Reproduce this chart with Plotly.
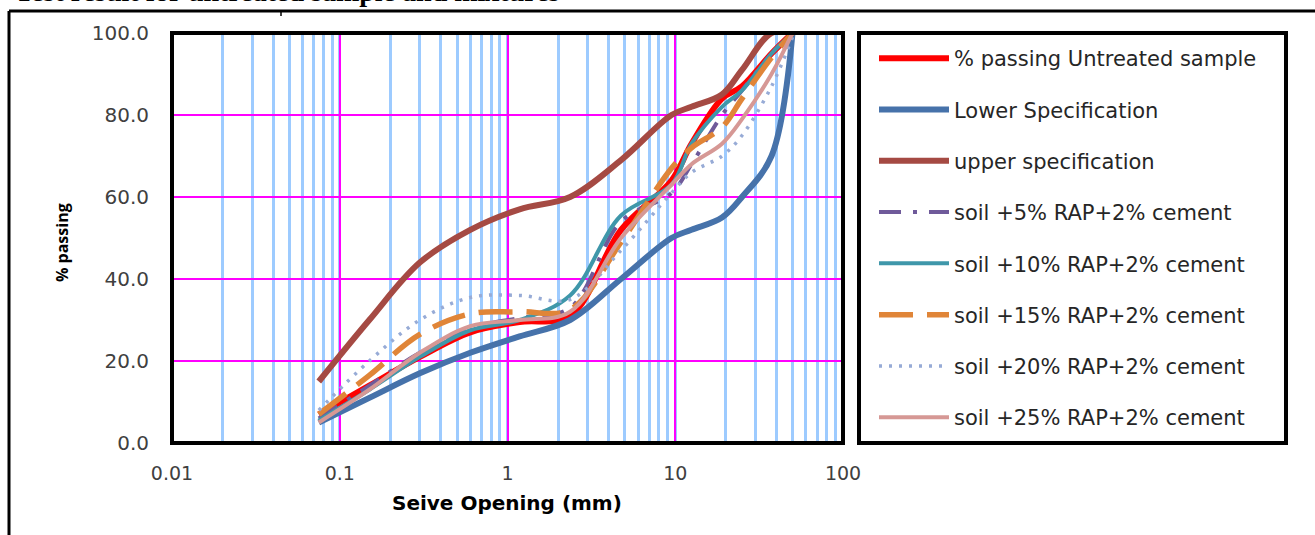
import plotly.graph_objects as go

# ---------------- data ----------------
sieve_mm = [0.075, 0.15, 0.3, 0.6, 1.18, 2.36, 4.75, 9.5, 12.5, 19, 25, 37.5, 50]

untreated = [7, 14, 21, 27, 29.5, 31, 52, 64, 73, 84, 87, 95, 100]
lower_spec = [5, 11, 17, 22, 26, 30, 40, 50, 52, 55, 60, 70, 100]
upper_spec = [15, 30, 44, 52, 57, 60, 69, 80, 82, 85, 91, 100, 100]
rap5 = [6, 14, 22, 28, 30.5, 33, 54, 61, 68, 80, 86, 95, 100]
rap10 = [5.5, 13, 21, 27.5, 30, 36, 55.5, 63, 73, 82, 86, 95, 100]
rap15 = [7, 16.5, 26.5, 31.5, 32, 32.5, 49, 67, 72, 77, 84, 94, 100]
rap20 = [8, 20, 30, 35.5, 36, 35, 47, 61, 66, 70, 75, 87, 99]
rap25 = [5, 13, 22, 28.5, 30, 32, 50, 63, 68, 73, 79, 90, 100]

series_names = [
    "% passing Untreated sample",
    "Lower Specification",
    "upper specification",
    "soil +5% RAP+2% cement",
    "soil +10% RAP+2% cement",
    "soil +15% RAP+2% cement",
    "soil +20% RAP+2% cement",
    "soil +25% RAP+2% cement",
]

x_tick_vals = [0.01, 0.1, 1, 10, 100]
x_tick_text = ["0.01", "0.1", "1", "10", "100"]
y_tick_vals = [0, 20, 40, 60, 80, 100]
y_tick_text = ["0.0", "20.0", "40.0", "60.0", "80.0", "100.0"]

# ---------------- styles ----------------
styles = [
    dict(color="#FF0000", width=6, dash="solid"),
    dict(color="#4672AA", width=6, dash="solid"),
    dict(color="#A54A43", width=6, dash="solid"),
    dict(color="#6F5A9A", width=4, dash="22px,12px,4px,12px"),
    dict(color="#3F97AA", width=4, dash="solid"),
    dict(color="#E08538", width=5.5, dash="34px,14px"),
    dict(color="#97ABD6", width=3.5, dash="3px,7px"),
    dict(color="#D69895", width=4, dash="solid"),
]
all_series = [untreated, lower_spec, upper_spec, rap5, rap10, rap15, rap20, rap25]

fig = go.Figure()
for i, (name, ys, st) in enumerate(zip(series_names, all_series, styles)):
    fig.add_trace(go.Scatter(
        x=sieve_mm, y=ys, name=name, mode="lines",
        line=dict(color=st["color"], width=st["width"], dash=st["dash"], shape="spline", smoothing=1.0),
        legendgroup=f"g{i}",
    ))

W, H = 1315, 535
L, R, T, B = 172, 843, 33, 443
pw, ph = R - L, B - T


def px(xp):
    return (xp - L) / pw


def py(yp):
    return (B - yp) / ph


shapes = [
    # outer frame (top and left visible)
    dict(type="line", xref="paper", yref="paper", x0=px(9), x1=px(1316), y0=py(11), y1=py(11),
         line=dict(color="black", width=3)),
    dict(type="line", xref="paper", yref="paper", x0=px(9), x1=px(9), y0=py(11), y1=py(536),
         line=dict(color="black", width=3)),
    dict(type="line", xref="paper", yref="paper", x0=px(281), x1=px(281), y0=py(11), y1=py(16),
         line=dict(color="black", width=1.5)),
    # legend box
    dict(type="rect", xref="paper", yref="paper", x0=px(859), x1=px(1286), y0=py(33), y1=py(443),
         line=dict(color="black", width=4)),
    # plot frame
    dict(type="rect", xref="paper", yref="paper", x0=0, x1=1, y0=0, y1=1,
         line=dict(color="black", width=4), layer="above"),
]

annotations = [
    dict(text="<b>Seive Opening (mm)</b>", xref="paper", yref="paper", x=px(507), y=py(503),
         xanchor="center", yanchor="middle", showarrow=False,
         font=dict(family="DejaVu Sans", size=20, color="#000000")),
    dict(text="<b>% passing</b>", xref="paper", yref="paper", x=px(62), y=py(243),
         xanchor="center", yanchor="middle", showarrow=False, textangle=-90,
         font=dict(family="Open Sans", size=16, color="#000000")),
    dict(text="<b>Test result for untreated sample and mixtures</b>", xref="paper", yref="paper",
         x=px(562), y=py(-8), xanchor="right", yanchor="middle", showarrow=False,
         font=dict(family="Liberation Serif", size=28, color="#000000")),
]

fig.update_layout(
    width=W, height=H,
    margin=dict(l=L, r=W - R, t=T, b=H - B, pad=0),
    paper_bgcolor="white", plot_bgcolor="white",
    shapes=shapes, annotations=annotations,
    showlegend=True,
    legend=dict(
        x=px(874), y=py(38), xanchor="left", yanchor="top",
        font=dict(family="DejaVu Sans", size=21, color="#262626"),
        bgcolor="rgba(0,0,0,0)", borderwidth=0,
        tracegroupgap=21, itemwidth=70, traceorder="grouped",
    ),
    xaxis=dict(
        type="log", range=[-2, 2],
        tickmode="array", tickvals=x_tick_vals, ticktext=x_tick_text,
        showgrid=True, gridcolor="#FF00FF", gridwidth=2,
        minor=dict(showgrid=True, gridcolor="#9DCBFF", gridwidth=2.5, dtick="D1", ticks=""),
        showline=False, zeroline=False, ticks="",
        tickfont=dict(family="DejaVu Sans", size=19, color="#404040"),
        ticklabelstandoff=17,
    ),
    yaxis=dict(
        range=[0, 100],
        tickmode="array", tickvals=y_tick_vals, ticktext=y_tick_text,
        showgrid=True, gridcolor="#FF00FF", gridwidth=2,
        showline=False, zeroline=False, ticks="",
        tickfont=dict(family="DejaVu Sans", size=20, color="#404040"),
        ticklabelstandoff=22,
    ),
)

fig.write_html("out.html")
